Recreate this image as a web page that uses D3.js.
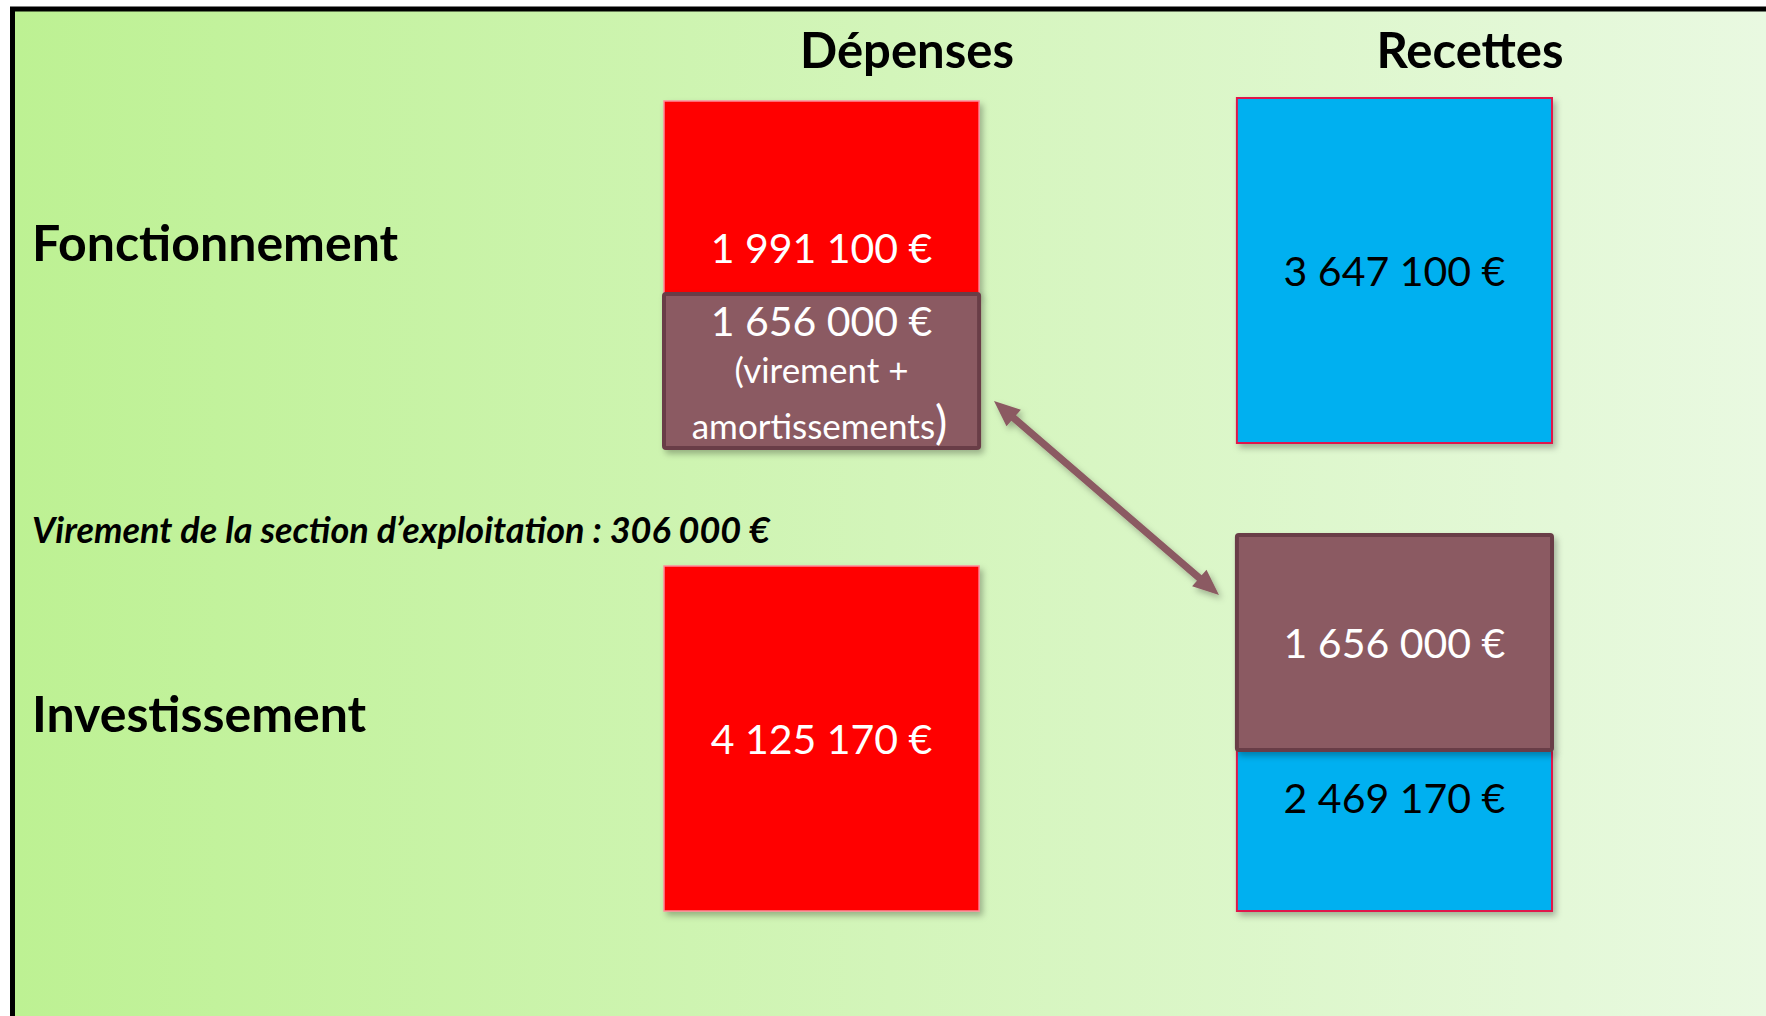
<!DOCTYPE html>
<html>
<head>
<meta charset="utf-8">
<script src="https://d3js.org/d3.v7.min.js"></script>
<style>
  body { margin: 0; background: #fff; }
  svg { display: block; }
  text { font-family: Lato, "Open Sans", sans-serif; }
</style>
</head>
<body>
<script>
// budget data (euros)
var sections = ["Fonctionnement", "Investissement"];
var sides = ["Dépenses", "Recettes"];

var segSection = ["Fonctionnement", "Fonctionnement", "Fonctionnement", "Investissement", "Investissement", "Investissement"];
var segSide    = ["Dépenses", "Dépenses", "Recettes", "Dépenses", "Recettes", "Recettes"];
var segKind    = ["depense", "transfert", "recette", "depense", "transfert", "recette"];
var segValue   = [1991100, 1656000, 3647100, 4125170, 1656000, 2469170];
var segNote    = [[], ["(virement +", "amortissements"], [], [], [], []];

var virementLabel = "Virement de la section d\u2019exploitation";
var virementValue = 306000;

// layout
var W = 1766, H = 1016;
var fill = { depense: "#ff0000", transfert: "#8b5a62", recette: "#00b0f0" };
var stroke = { depense: "#ff8a9a", transfert: "#693e47", recette: "#e0184c" };
var strokeW = { depense: 1.5, transfert: 4, recette: 2 };
var txtColor = { depense: "#fff", transfert: "#fff", recette: "#000" };
// where the value label sits inside each segment (0 = top, 1 = bottom)
var labelPos = [0.76, 0, 0.5, 0.5, 0.5, 0.3];

// vertical extent of each stack ([top, bottom] or [top, split, bottom])
var stackRange = {
  "Fonctionnement|Dépenses": [101, 294, 448],
  "Fonctionnement|Recettes": [98, 443],
  "Investissement|Dépenses": [566, 911],
  "Investissement|Recettes": [535, 750, 911]
};

var fr = d3.formatLocale({ decimal: ",", thousands: " ", grouping: [3], currency: ["", " €"] });
var money = function (v) { return fr.format(",d")(v) + " €"; };

var svg = d3.select("body").append("svg").attr("width", W).attr("height", H);
var defs = svg.append("defs");

var grad = defs.append("linearGradient").attr("id", "bg")
  .attr("gradientUnits", "userSpaceOnUse")
  .attr("x1", 15).attr("x2", W).attr("y1", 0).attr("y2", 0);
grad.append("stop").attr("offset", "0%").attr("stop-color", "#bdf193");
grad.append("stop").attr("offset", "100%").attr("stop-color", "#e9f9e1");

var sh = defs.append("filter").attr("id", "shadow")
  .attr("x", "-10%").attr("y", "-10%").attr("width", "130%").attr("height", "130%");
sh.append("feDropShadow").attr("dx", 3).attr("dy", 4).attr("stdDeviation", 3)
  .attr("flood-color", "#000").attr("flood-opacity", 0.28);

// frame
svg.append("rect")
  .attr("x", 12.5).attr("y", 9)
  .attr("width", W + 40).attr("height", H + 40)
  .attr("fill", "url(#bg)")
  .attr("stroke", "#000").attr("stroke-width", 5);

var x = d3.scaleBand().domain(sides).range([664, 1552]).paddingInner(0.45);

// build segments, stacked within each section/side
var segs = segValue.map(function (v, i) {
  return { i: i, section: segSection[i], side: segSide[i], kind: segKind[i], value: v, note: segNote[i] };
});
var stacks = d3.group(segs, function (d) { return d.section + "|" + d.side; });
stacks.forEach(function (list, key) {
  var cum = [0];
  list.forEach(function (d) { cum.push(cum[cum.length - 1] + d.value); });
  var r = stackRange[key];
  var dom = r.length === 3 ? cum : [0, cum[cum.length - 1]];
  var y = d3.scaleLinear().domain(dom).range(r);
  list.forEach(function (d, k) {
    d.y0 = y(cum[k]);
    d.y1 = y(cum[k + 1]);
  });
});

// draw back-to-front: plain boxes first, transfer cards on top
var order = segs.slice().sort(function (a, b) {
  return (a.kind === "transfert") - (b.kind === "transfert");
});

var g = svg.append("g");
g.selectAll("rect.seg").data(order).enter().append("rect")
  .attr("class", "seg")
  .attr("x", function (d) { return x(d.side); })
  .attr("y", function (d) { return d.y0; })
  .attr("width", x.bandwidth())
  .attr("height", function (d) { return d.y1 - d.y0; })
  .attr("rx", function (d) { return d.kind === "transfert" ? 2 : 0; })
  .attr("fill", function (d) { return fill[d.kind]; })
  .attr("stroke", function (d) { return stroke[d.kind]; })
  .attr("stroke-width", function (d) { return strokeW[d.kind]; })
  .attr("filter", "url(#shadow)");

var cx = function (d) { return x(d.side) + x.bandwidth() / 2; };

// value labels
order.forEach(function (d) {
  var t = g.append("text")
    .attr("x", cx(d))
    .attr("text-anchor", "middle")
    .attr("fill", txtColor[d.kind])
    .style("font-size", "41px");
  if (d.note.length) {
    t.attr("y", d.y0 + 42).text(money(d.value));
    g.append("text").attr("x", cx(d)).attr("y", d.y0 + 89)
      .attr("text-anchor", "middle").attr("fill", "#fff")
      .style("font-size", "35px").text(d.note[0]);
    var t2 = g.append("text").attr("x", cx(d) - 2).attr("y", d.y0 + 145)
      .attr("text-anchor", "middle").attr("fill", "#fff")
      .style("font-size", "35px");
    t2.append("tspan").text(d.note[1]);
    t2.append("tspan").style("font-size", "46px").text(")");
  } else {
    var yc = d.y0 + (d.y1 - d.y0) * labelPos[d.i];
    t.attr("y", yc + 15).text(money(d.value));
  }
});

// double arrow between the two transfer cards
var a0 = [994, 401], a1 = [1219, 595];
var dx = a1[0] - a0[0], dy = a1[1] - a0[1];
var len = Math.sqrt(dx * dx + dy * dy);
var ux = dx / len, uy = dy / len, px = -uy, py = ux;
var hl = 26, hw = 11, sw = 3.6;
function pt(p, along, side) { return [p[0] + ux * along + px * side, p[1] + uy * along + py * side]; }
var arrowPts = [
  a0,
  pt(a0, hl, hw), pt(a0, hl, sw),
  pt(a1, -hl, sw), pt(a1, -hl, hw),
  a1,
  pt(a1, -hl, -hw), pt(a1, -hl, -sw),
  pt(a0, hl, -sw), pt(a0, hl, -hw)
];
svg.append("path")
  .attr("d", d3.line()(arrowPts) + "Z")
  .attr("fill", "#8b5a62")
  .attr("filter", "url(#shadow)");

// headings
svg.selectAll("text.side").data(sides).enter().append("text")
  .attr("class", "side")
  .attr("x", function (d, i) { return [907, 1470][i]; })
  .attr("y", 68)
  .attr("text-anchor", "middle")
  .style("font-size", "49px").style("font-weight", "bold")
  .text(function (d) { return d; });

svg.selectAll("text.section").data(sections).enter().append("text")
  .attr("class", "section")
  .attr("x", 32)
  .attr("y", function (d, i) { return [261, 732][i]; })
  .style("font-size", "50px").style("font-weight", "bold")
  .text(function (d) { return d; });

svg.append("text")
  .attr("x", 32).attr("y", 543)
  .style("font-size", "36px").style("font-weight", "bold").style("font-style", "italic")
  .text(virementLabel + " : " + money(virementValue));
</script>
</body>
</html>
